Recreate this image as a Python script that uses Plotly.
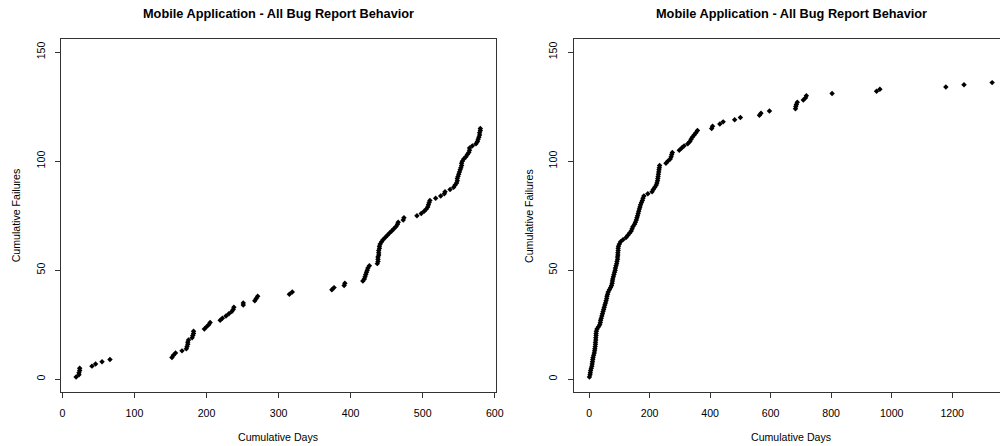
import plotly.graph_objects as go

# ---- data ----
left_days = [19, 23, 23, 24, 24, 41, 46, 55, 66, 152,
             154, 157, 166, 172, 173, 174, 174, 175, 180, 181,
             182, 182, 197, 200, 203, 205, 219, 222, 227, 231,
             235, 237, 238, 251, 251, 267, 269, 271, 315, 319,
             374, 377, 391, 392, 417, 419, 420, 421, 422, 423,
             424, 426, 437, 438, 438, 438, 439, 439, 439, 440,
             440, 441, 443, 445, 448, 451, 454, 457, 460, 463,
             465, 466, 473, 474, 492, 498, 502, 505, 507, 508,
             509, 510, 518, 525, 530, 531, 538, 543, 545, 547,
             548, 548, 549, 550, 551, 552, 553, 554, 554, 555,
             557, 560, 562, 564, 565, 565, 569, 574, 576, 577,
             578, 579, 579, 580, 580]
left_failures = list(range(1, 116))

right_days = [1, 3, 4, 5, 7, 9, 10, 11, 12, 13,
              15, 17, 18, 19, 20, 21, 21, 22, 22, 23,
              23, 24, 26, 31, 35, 37, 38, 40, 42, 44,
              46, 48, 50, 52, 54, 56, 58, 59, 61, 63,
              67, 71, 74, 76, 77, 78, 80, 82, 84, 86,
              87, 89, 91, 92, 94, 94, 95, 95, 96, 96,
              97, 100, 104, 112, 122, 128, 134, 139, 142, 145,
              150, 153, 156, 158, 160, 162, 164, 166, 168, 170,
              173, 176, 178, 181, 194, 208, 212, 217, 222, 224,
              226, 227, 228, 229, 230, 231, 232, 233, 254, 260,
              268, 271, 273, 275, 298, 306, 314, 326, 333, 337,
              341, 347, 353, 358, 405, 408, 432, 443, 481, 500,
              563, 568, 596, 682, 683, 685, 688, 708, 715, 718,
              803, 950, 961, 1179, 1239, 1332]
right_failures = list(range(1, 137))

left_xticks = [0, 100, 200, 300, 400, 500, 600]
right_xticks = [0, 200, 400, 600, 800, 1000, 1200]
yticks = [0, 50, 100, 150]

title_text = "Mobile Application - All Bug Report Behavior"
xlab = "Cumulative Days"
ylab = "Cumulative Failures"

# ---- layout geometry (pixels) ----
W, H = 1008, 446
FONT = "Liberation Sans, Arial, Helvetica, sans-serif"
FS = 10.6
LC = "#333333"

def px(x):
    return x / W

def py(y):
    return 1 - y / H

fig = go.Figure()
marker = dict(symbol="diamond", size=4.2, color="black", line=dict(width=0))
fig.add_trace(go.Scatter(x=left_days, y=left_failures, mode="markers",
                         marker=marker, xaxis="x", yaxis="y", showlegend=False))
fig.add_trace(go.Scatter(x=right_days, y=right_failures, mode="markers",
                         marker=marker, xaxis="x2", yaxis="y2", showlegend=False))

ydom = [py(392.3), py(39)]
common_axis = dict(showgrid=False, zeroline=False, showline=True, linecolor=LC,
                   linewidth=1, ticks="outside", ticklen=5, tickcolor=LC, tickwidth=1,
                   tickfont=dict(family=FONT, size=FS, color="black"))

fig.update_layout(
    width=W, height=H, margin=dict(l=0, r=0, t=0, b=0),
    paper_bgcolor="white", plot_bgcolor="white",
    xaxis=dict(domain=[px(59.7), px(498.7)], range=[-1.8, 601.4],
               tickvals=left_xticks, mirror=True, anchor="y",
               ticklabelstandoff=6, **common_axis),
    yaxis=dict(domain=ydom, range=[-6, 156], tickvals=yticks, tickangle=-90,
               mirror=True, anchor="x", ticklabelstandoff=6, **common_axis),
    xaxis2=dict(domain=[px(577.3), 1.0], range=[-51.4, 1358],
                tickvals=right_xticks, mirror=True, anchor="y2",
                ticklabelstandoff=6, **common_axis),
    yaxis2=dict(domain=ydom, range=[-6, 156], tickvals=yticks, tickangle=-90,
                mirror=False, anchor="x2", ticklabelstandoff=6, **common_axis),
)

annos = []
for cx, yl in [(279.2, 14), (797, 531.7)]:
    annos.append(dict(text="<b>" + title_text + "</b>", x=px(cx), y=py(14),
                      xref="paper", yref="paper", showarrow=False,
                      xanchor="center", yanchor="middle",
                      font=dict(family=FONT, size=12.75, color="black")))
    annos.append(dict(text=xlab, x=px(cx), y=py(437), xref="paper", yref="paper",
                      showarrow=False, xanchor="center", yanchor="middle",
                      font=dict(family=FONT, size=FS, color="black")))
for lx in [14, 531.7]:
    annos.append(dict(text=ylab, x=px(lx), y=py(215.5), xref="paper", yref="paper",
                      showarrow=False, xanchor="center", yanchor="middle", textangle=-90,
                      font=dict(family=FONT, size=FS, color="black")))
fig.update_layout(annotations=annos)

fig.write_html("out.html")
